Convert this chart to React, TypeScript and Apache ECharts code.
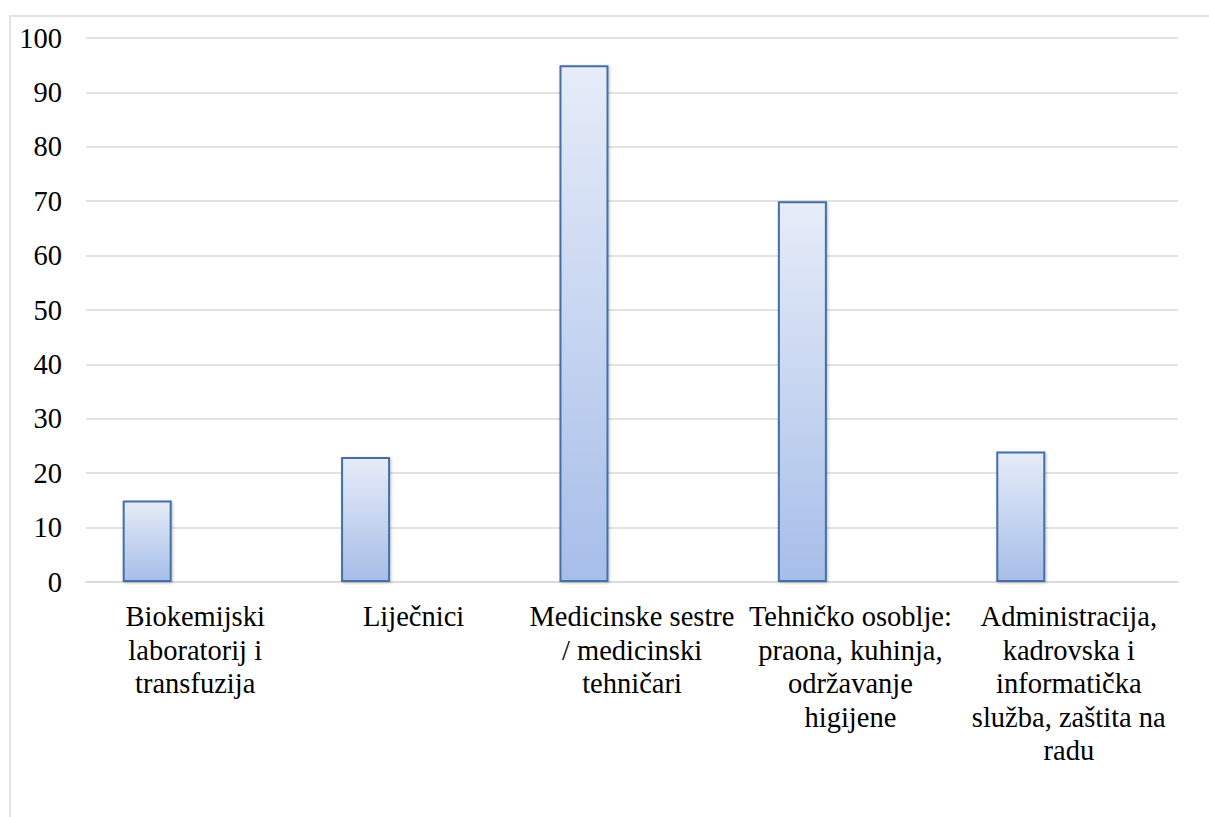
import React, { useEffect, useRef } from "react";
import * as echarts from "echarts";

const categories = [
  "Biokemijski\nlaboratorij i\ntransfuzija",
  "Liječnici",
  "Medicinske sestre\n/ medicinski\ntehničari",
  "Tehničko osoblje:\npraona, kuhinja,\nodržavanje\nhigijene",
  "Administracija,\nkadrovska i\ninformatička\nslužba, zaštita na\nradu",
];
const values = [15, 23, 95, 70, 24];
const emptySeries = [null, null, null, null, null];

const FONT = "Liberation Serif";

export default function App() {
  const ref = useRef<HTMLDivElement>(null);
  useEffect(() => {
    if (!ref.current) return;
    const chart = echarts.init(ref.current, undefined, { renderer: "svg" });
    chart.setOption({
      animation: false,
      backgroundColor: "#ffffff",
      graphic: [
        {
          type: "rect",
          shape: { x: 10, y: 16, width: 1230, height: 840 },
          style: { fill: "none", stroke: "#d9d9d9", lineWidth: 1.5 },
          silent: true,
          z: -1,
        },
      ],
      grid: { left: 86, right: 31, top: 38, bottom: 235, containLabel: false },
      xAxis: {
        type: "category",
        data: categories,
        axisLine: { show: true, lineStyle: { color: "#d9d9d9", width: 1.5 } },
        axisTick: { show: false },
        axisLabel: {
          interval: 0,
          color: "#000",
          fontFamily: FONT,
          fontSize: 28.5,
          lineHeight: 33.5,
          margin: 18,
        },
      },
      yAxis: {
        type: "value",
        min: 0,
        max: 100,
        interval: 10,
        axisLine: { show: false },
        axisTick: { show: false },
        splitLine: { lineStyle: { color: "#d9d9d9", width: 1.5 } },
        axisLabel: {
          color: "#000",
          fontFamily: FONT,
          fontSize: 28.5,
          margin: 24,
        },
      },
      series: [
        {
          type: "bar",
          data: values,
          barWidth: 49,
          barGap: "96%",
          itemStyle: {
            color: new echarts.graphic.LinearGradient(0, 0, 0, 1, [
              { offset: 0, color: "#e6ecf8" },
              { offset: 1, color: "#a7bee9" },
            ]),
            borderColor: "#4470a6",
            borderWidth: 2,
            shadowColor: "rgba(0,0,0,0.25)",
            shadowBlur: 3,
            shadowOffsetX: 1,
            shadowOffsetY: 1,
          },
        },
        {
          type: "bar",
          data: emptySeries,
          barWidth: 49,
          itemStyle: { color: "transparent" },
        },
      ],
    });
    return () => chart.dispose();
  }, []);
  return (
    <div
      ref={ref}
      style={{ position: "fixed", left: 0, top: 0, width: 1209, height: 817 }}
    />
  );
}
